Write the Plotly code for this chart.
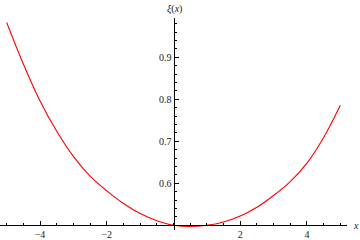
import plotly.graph_objects as go

x_vals = [-5, -4.5, -4, -3.5, -3, -2.5, -2, -1.5, -1, -0.5, 0, 0.5, 1, 1.5, 2, 2.5, 3, 3.5, 4, 4.5, 5]
xi_vals = [0.983, 0.884, 0.796, 0.724, 0.664, 0.617, 0.582, 0.552, 0.528, 0.511, 0.500,
           0.497, 0.500, 0.508, 0.522, 0.543, 0.571, 0.604, 0.648, 0.709, 0.786]

x_ticks = [-4, -2, 2, 4]
x_ticklabels = ["\u22124", "\u22122", "2", "4"]
y_ticks = [0.6, 0.7, 0.8, 0.9]
y_ticklabels = ["0.6", "0.7", "0.8", "0.9"]

xr = [-5.2, 5.2]
yr = [0.4888, 0.9936]

font = dict(family="Liberation Serif", size=10, color="#1a1a2a")

fig = go.Figure()
fig.add_trace(go.Scatter(x=x_vals, y=xi_vals, mode="lines",
                         line=dict(color="#ff0000", width=1.1, shape="spline", smoothing=1.0),
                         showlegend=False, hoverinfo="skip"))

fig.update_layout(
    width=360, height=240,
    margin=dict(l=0, r=13, t=18, b=10),
    paper_bgcolor="white", plot_bgcolor="white",
    font=font,
    xaxis=dict(range=xr, showgrid=False, zeroline=False, showline=True, linecolor="black", linewidth=1,
               anchor="free", position=(0.5 - yr[0]) / (yr[1] - yr[0]),
               tickvals=x_ticks, ticktext=x_ticklabels, ticks="inside", ticklen=4, tickcolor="black",
               tickwidth=1, tickfont=font,
               minor=dict(dtick=0.5, tick0=0, ticks="inside", ticklen=2, tickcolor="black", tickwidth=1),
               automargin=False, fixedrange=True),
    yaxis=dict(range=yr, showgrid=False, zeroline=False, showline=True, linecolor="black", linewidth=1,
               anchor="free", position=(0 - xr[0]) / (xr[1] - xr[0]),
               tickvals=y_ticks, ticktext=y_ticklabels, ticks="inside", ticklen=4, tickcolor="black",
               tickwidth=1, tickfont=font,
               minor=dict(dtick=0.02, tick0=0.5, ticks="inside", ticklen=2, tickcolor="black", tickwidth=1),
               automargin=False, fixedrange=True),
    annotations=[
        dict(x=0, y=1, xref="x", yref="paper", yanchor="bottom", xanchor="center",
             text="<i>\u03be</i>(<i>x</i>)", showarrow=False, xshift=1, yshift=1, font=font),
        dict(x=1, y=0.5, xref="paper", yref="y", xanchor="left", yanchor="middle",
             text="<i>x</i>", showarrow=False, xshift=4, font=font),
    ],
)

fig.write_html("out.html")
